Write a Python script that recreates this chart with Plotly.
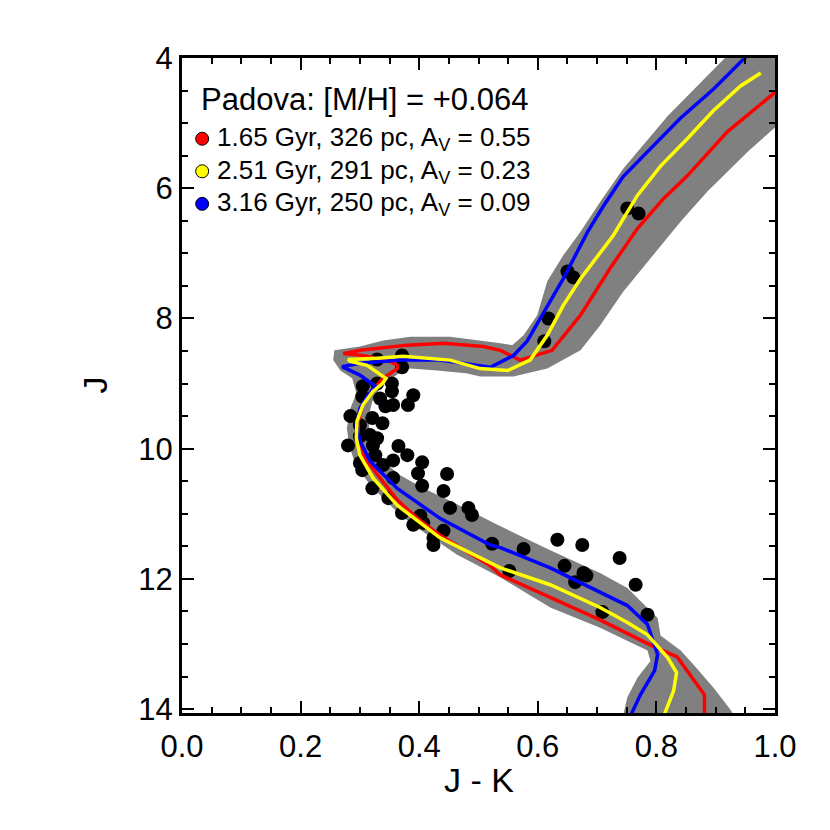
import plotly.graph_objects as go

# observed stars (J-K, J)
star_jk = [0.751, 0.770, 0.650, 0.660, 0.618, 0.611, 0.329, 0.371, 0.371, 0.305,
           0.329, 0.354, 0.304, 0.354, 0.334, 0.390, 0.381, 0.356, 0.343, 0.284,
           0.321, 0.338, 0.300, 0.317, 0.300, 0.329, 0.280, 0.322, 0.326, 0.365,
           0.380, 0.356, 0.405, 0.300, 0.339, 0.304, 0.398, 0.447, 0.356, 0.405,
           0.321, 0.441, 0.348, 0.452, 0.483, 0.489, 0.371, 0.402, 0.407, 0.390,
           0.441, 0.424, 0.424, 0.523, 0.576, 0.552, 0.633, 0.675, 0.645, 0.677,
           0.682, 0.663, 0.738, 0.765, 0.709, 0.785]
star_j = [6.31, 6.39, 7.28, 7.37, 8.00, 8.35, 8.63, 8.57, 8.75, 9.04,
          9.00, 9.00, 9.20, 9.12, 9.23, 9.18, 9.33, 9.33, 9.35, 9.50,
          9.53, 9.61, 9.64, 9.79, 9.81, 9.84, 9.95, 9.95, 10.10, 9.96,
          10.10, 10.18, 10.21, 10.22, 10.25, 10.33, 10.38, 10.39, 10.45, 10.57,
          10.61, 10.65, 10.76, 10.91, 10.91, 11.02, 10.99, 11.03, 11.14, 11.17,
          11.26, 11.37, 11.48, 11.46, 11.54, 11.88, 11.40, 11.48, 11.80, 11.91,
          11.95, 12.05, 11.68, 12.09, 12.51, 12.55]

# grey envelope of the isochrone grid
band_jk = [0.743, 0.751, 0.768, 0.790, 0.785, 0.705, 0.621, 0.537, 0.498, 0.464,
           0.430, 0.397, 0.368, 0.339, 0.317, 0.300, 0.289, 0.282, 0.278, 0.284,
           0.294, 0.287, 0.267, 0.255, 0.257, 0.300, 0.339, 0.385, 0.452, 0.537,
           0.557, 0.576, 0.599, 0.616, 0.643, 0.672, 0.705, 0.744, 0.819, 0.922,
           0.950, 1.043, 1.043, 0.997, 0.954, 0.925, 0.886, 0.841, 0.785, 0.744,
           0.705, 0.672, 0.616, 0.559, 0.503, 0.479, 0.430, 0.385, 0.371, 0.354,
           0.334, 0.321, 0.314, 0.317, 0.326, 0.343, 0.368, 0.407, 0.452, 0.498,
           0.532, 0.621, 0.705, 0.751, 0.802, 0.807, 0.841, 0.862, 0.896, 0.925,
           0.933]
band_j = [14.13, 13.82, 13.52, 13.26, 13.10, 12.75, 12.44, 11.98, 11.79, 11.63,
          11.42, 11.22, 11.02, 10.76, 10.56, 10.34, 10.15, 9.95, 9.69, 9.38,
          9.15, 8.92, 8.80, 8.64, 8.49, 8.43, 8.34, 8.28, 8.28, 8.38,
          8.41, 8.26, 7.95, 7.43, 7.03, 6.67, 6.21, 5.70, 4.89, 3.94,
          3.63, 3.63, 4.78, 5.09, 5.44, 5.70, 6.05, 6.51, 7.13, 7.59,
          8.11, 8.49, 8.77, 8.89, 8.89, 8.84, 8.80, 8.77, 8.81, 8.92,
          9.07, 9.27, 9.53, 9.79, 10.04, 10.22, 10.41, 10.61, 10.80, 11.02,
          11.17, 11.56, 11.91, 12.14, 12.60, 12.87, 13.10, 13.31, 13.67, 14.01,
          14.13]

# 1.65 Gyr isochrone
red_jk = [0.881, 0.881, 0.835, 0.793, 0.705, 0.576, 0.537, 0.520, 0.435, 0.397,
          0.363, 0.334, 0.312, 0.300, 0.297, 0.297, 0.305, 0.322, 0.339, 0.363,
          0.363, 0.351, 0.305, 0.272, 0.300, 0.380, 0.441, 0.508, 0.537, 0.570,
          0.624, 0.672, 0.722, 0.768, 0.812, 0.852, 0.920, 1.009]
red_j = [14.07, 13.78, 13.20, 13.03, 12.63, 12.11, 11.94, 11.80, 11.33, 11.07,
         10.79, 10.45, 10.19, 9.99, 9.84, 9.58, 9.33, 9.10, 8.92, 8.77,
         8.72, 8.66, 8.57, 8.54, 8.49, 8.41, 8.38, 8.43, 8.49, 8.64,
         8.49, 7.95, 7.23, 6.62, 6.16, 5.81, 5.13, 4.46]

# 2.51 Gyr isochrone
yel_jk = [0.814, 0.829, 0.834, 0.819, 0.785, 0.751, 0.705, 0.621, 0.537, 0.435,
          0.363, 0.322, 0.300, 0.294, 0.295, 0.305, 0.322, 0.338, 0.344, 0.312,
          0.284, 0.280, 0.329, 0.373, 0.452, 0.503, 0.549, 0.587, 0.616, 0.643,
          0.672, 0.727, 0.768, 0.807, 0.852, 0.896, 0.942, 0.976]
yel_j = [14.07, 13.72, 13.44, 13.21, 12.86, 12.67, 12.44, 12.09, 11.83, 11.37,
         10.87, 10.45, 10.10, 9.84, 9.58, 9.33, 9.12, 9.00, 8.92, 8.72,
         8.66, 8.63, 8.61, 8.58, 8.64, 8.77, 8.80, 8.64, 8.26, 7.80,
         7.39, 6.73, 6.11, 5.66, 5.24, 4.81, 4.43, 4.23]

# 3.16 Gyr isochrone
blu_jk = [0.758, 0.773, 0.797, 0.802, 0.785, 0.751, 0.621, 0.537, 0.520, 0.474,
          0.435, 0.363, 0.317, 0.300, 0.294, 0.300, 0.312, 0.326, 0.300, 0.270,
          0.300, 0.368, 0.435, 0.520, 0.559, 0.582, 0.604, 0.643, 0.684, 0.711,
          0.744, 0.785, 0.840, 0.896, 0.952]
blu_j = [14.07, 13.78, 13.41, 13.16, 12.70, 12.41, 11.83, 11.52, 11.48, 11.26,
         11.07, 10.61, 10.19, 9.88, 9.64, 9.38, 9.20, 9.04, 8.87, 8.74,
         8.69, 8.64, 8.64, 8.75, 8.57, 8.35, 8.00, 7.39, 6.67, 6.27,
         5.82, 5.44, 4.93, 4.48, 3.97]

legend_title = "Padova: [M/H] = +0.064"
legend_labels = ["1.65 Gyr, 326 pc, A<sub>V</sub> = 0.55",
                 "2.51 Gyr, 291 pc, A<sub>V</sub> = 0.23",
                 "3.16 Gyr, 250 pc, A<sub>V</sub> = 0.09"]
legend_colors = ["#ff0000", "#ffff00", "#0000ff"]

FONT = "Liberation Sans, Arial, Helvetica, sans-serif"

fig = go.Figure()

fig.add_trace(go.Scatter(x=band_jk, y=band_j, mode="lines", fill="toself",
                         fillcolor="rgb(128,128,128)", line=dict(width=0),
                         hoverinfo="skip"))
fig.add_trace(go.Scatter(x=star_jk, y=star_j, mode="markers",
                         marker=dict(color="black", size=14, line=dict(width=0))))
for xs, ys, c in [(red_jk, red_j, legend_colors[0]),
                  (blu_jk, blu_j, legend_colors[2]),
                  (yel_jk, yel_j, legend_colors[1])]:
    fig.add_trace(go.Scatter(x=xs, y=ys, mode="lines",
                             line=dict(color=c, width=3.5)))

# legend block
fig.add_annotation(x=0.028, y=4.64, xref="x", yref="y", text=legend_title,
                   showarrow=False, xanchor="left", yanchor="middle",
                   font=dict(size=31, color="black", family=FONT))
for i, (lab, c) in enumerate(zip(legend_labels, legend_colors)):
    yy = 5.24 + 0.5 * i
    fig.add_shape(type="circle", xref="x", yref="y", xsizemode="pixel",
                  ysizemode="pixel", xanchor=0.034, yanchor=yy,
                  x0=-6.5, x1=6.5, y0=-6.5, y1=6.5,
                  fillcolor=c, line=dict(color="black", width=1))
    fig.add_annotation(x=0.055, y=yy, xref="x", yref="y", text=lab,
                       showarrow=False, xanchor="left", yanchor="middle",
                       font=dict(size=26, color="black", family=FONT))

# axis titles
fig.add_annotation(x=0.5, y=0, xref="paper", yref="paper", text="J - K",
                   showarrow=False, xanchor="center", yanchor="middle", yshift=-67,
                   font=dict(size=34, color="black", family=FONT))
fig.add_annotation(x=0, y=0.5, xref="paper", yref="paper", text="J",
                   showarrow=False, xanchor="center", yanchor="middle", xshift=-88,
                   textangle=-90, font=dict(size=34, color="black", family=FONT))

axis_common = dict(showline=True, linecolor="black", linewidth=3, mirror="ticks",
                   ticks="inside", tickwidth=2, ticklen=12, tickcolor="black",
                   showgrid=False, zeroline=False,
                   tickfont=dict(size=31, color="black", family=FONT))

fig.update_xaxes(range=[0, 1], tick0=0, dtick=0.2, tickformat=".1f",
                 ticklabelstandoff=4,
                 minor=dict(ticks="inside", dtick=0.05, ticklen=6, tickwidth=2,
                            tickcolor="black", showgrid=False),
                 **axis_common)
fig.update_yaxes(range=[14.06, 4], tick0=4, dtick=2,
                 minor=dict(ticks="inside", dtick=0.5, ticklen=6, tickwidth=2,
                            tickcolor="black", showgrid=False),
                 **axis_common)

# page body adds an 8px offset, so the figure is sized 822 to land the frame in place
fig.update_layout(width=822, height=822, showlegend=False,
                  margin=dict(l=174, r=55, t=50, b=117),
                  plot_bgcolor="white", paper_bgcolor="white")

fig.write_html("out.html")
